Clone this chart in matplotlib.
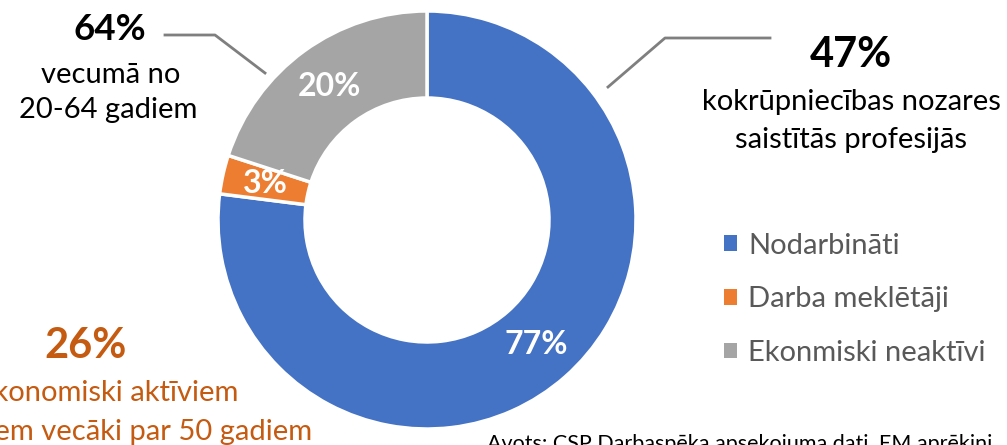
import matplotlib.pyplot as plt

plt.rcParams['font.family'] = ['Lato', 'DejaVu Sans']

# data
shares = [77, 3, 20]
names = ['Nodarbināti', 'Darba meklētāji', 'Ekonmiski neaktīvi']
colors = ['#4472C4', '#ED7D31', '#A5A5A5']

W, H = 1007, 445
fig = plt.figure(figsize=(W / 100, H / 100), dpi=100)
ax = fig.add_axes([0, 0, 1, 1])

cx, cy = 427, H - 220
R, r = 209, 122
wedges, _, autotexts = ax.pie(
    shares, colors=colors, startangle=90, counterclock=False,
    center=(cx, cy), radius=R, frame=True,
    autopct=lambda p: '%d%%' % round(p), pctdistance=(R + r) / 2 / R,
    wedgeprops=dict(width=R - r, edgecolor='white', linewidth=2.5),
    textprops=dict(color='white', fontsize=23, fontweight='bold'))
ax.set_xlim(0, W)
ax.set_ylim(0, H)
ax.set_aspect('equal')
ax.axis('off')

grey = '#7F7F7F'
# top right callout
ax.plot([608, 665, 770], [H - 87, H - 38, H - 38], color=grey, lw=2)
ax.text(851, H - 55, '47%', ha='center', va='center', fontsize=30, fontweight='bold', color='black')
ax.text(851, H - 102, 'kokrūpniecības nozares', ha='center', va='center', fontsize=21, color='black')
ax.text(851, H - 140, 'saistītās profesijās', ha='center', va='center', fontsize=21, color='black')

# top left callout
ax.plot([165, 215, 265], [H - 35, H - 35, H - 73], color=grey, lw=2)
ax.text(110, H - 30, '64%', ha='center', va='center', fontsize=26.5, fontweight='bold', color='black')
ax.text(111, H - 75, 'vecumā no', ha='center', va='center', fontsize=21, color='black')
ax.text(108, H - 110, '20-64 gadiem', ha='center', va='center', fontsize=21, color='black')

# bottom left
orange = '#C55A11'
ax.text(86, H - 346, '26%', ha='center', va='center', fontsize=30, fontweight='bold', color=orange)
ax.text(238, H - 393, 'ekonomiski aktīviem', ha='right', va='center', fontsize=21, color=orange)
ax.text(312, H - 432, 'iedzīvotājiem vecāki par 50 gadiem', ha='right', va='center', fontsize=21, color=orange)

# source
ax.text(487, H - 444, 'Avots: CSP Darbaspēka apsekojuma dati, EM aprēķini', ha='left', va='center',
        fontsize=15.5, color='black')

leg = ax.legend(wedges, names, loc='upper left', bbox_to_anchor=(709 / W, 1 - 218 / H),
                frameon=False, fontsize=21, labelcolor='#595959', handlelength=0.45,
                handleheight=0.45, handletextpad=0.4, labelspacing=0.95, borderpad=0)
for h in leg.legend_handles:
    h.set_edgecolor('none')

fig.savefig('out.png', dpi=100)
